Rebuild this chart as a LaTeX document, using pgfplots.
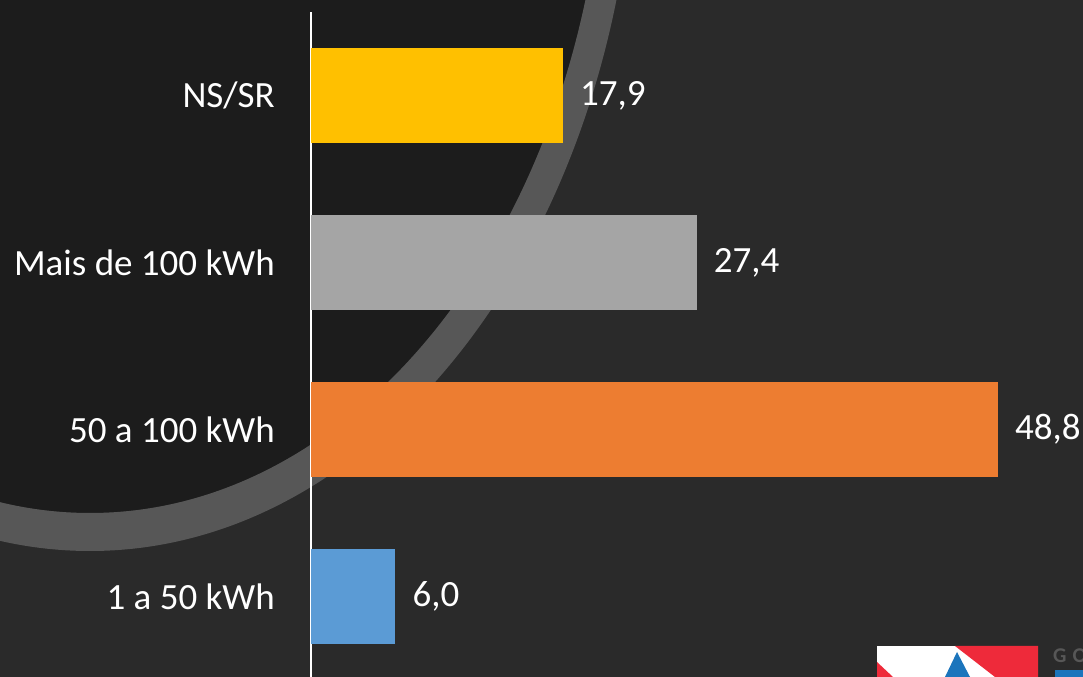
\documentclass[border=0pt]{standalone}
\usepackage{pgfplots}
\pgfplotsset{compat=1.18}
\usepackage{fontspec}
\setmainfont{Carlito}
\definecolor{bgout}{HTML}{2A2A2A}
\definecolor{bgin}{HTML}{1C1C1C}
\definecolor{ring}{HTML}{575757}
\definecolor{cyellow}{HTML}{FFC000}
\definecolor{cgray}{HTML}{A5A5A5}
\definecolor{corange}{HTML}{ED7D31}
\definecolor{cblue}{HTML}{5B9BD5}
\definecolor{logored}{HTML}{EE2A3A}
\definecolor{logoblue}{HTML}{1B75BC}
\begin{document}
\begin{tikzpicture}[x=1bp,y=1bp]
\useasboundingbox (0,0) rectangle (1083,677);
\begin{scope}
\clip (0,0) rectangle (1083,677);
\fill[bgout] (0,0) rectangle (1083,677);
\fill[bgin] (90,877) ellipse (516 and 713);
\fill[ring, even odd rule] (90,877) ellipse (546 and 751) (90,877) ellipse (516 and 713);
% logo
\fill[white] (877,0) rectangle (1038,31);
\fill[logored] (955,31) -- (1038,31) -- (1038,0) -- (995,0) -- cycle;
\fill[logored] (877,15) -- (877,0) -- (893,0) -- cycle;
\fill[logoblue] (957,25) -- (970,0) -- (945,0) -- cycle;
\node[anchor=south west, inner sep=0pt, text=ring, font=\fontsize{21bp}{21bp}\selectfont\bfseries] at (1053,14) {G\hspace{6bp}O};
\fill[logoblue] (1055,0) rectangle (1083,7);
\end{scope}
\begin{axis}[
  at={(311bp,0bp)}, anchor=south west,
  scale only axis, width=772bp, height=665bp,
  xbar, bar shift=0pt, bar width=95bp,
  xmin=0, xmax=54.85, ymin=-0.482, ymax=3.5,
  axis y line*=left, axis x line=none,
  y axis line style={white, line width=1.5bp, -},
  ytick={0,1,2,3},
  yticklabels={1 a 50 kWh, 50 a 100 kWh, Mais de 100 kWh, NS/SR},
  major tick length=0pt,
  yticklabel style={font=\fontsize{37bp}{40bp}\selectfont, text=white, inner sep=0pt, anchor=east, xshift=-36bp},
  /pgf/number format/.cd, fixed, fixed zerofill, precision=1, use comma, assume math mode=true,
  /pgfplots/.cd,
  nodes near coords,
  nodes near coords style={font=\fontsize{37bp}{40bp}\selectfont, text=white, inner sep=0pt, anchor=west, xshift=17bp},
]
\addplot[draw=none, fill=cblue] coordinates {(6.0,0)};
\addplot[draw=none, fill=corange] coordinates {(48.8,1)};
\addplot[draw=none, fill=cgray] coordinates {(27.4,2)};
\addplot[draw=none, fill=cyellow] coordinates {(17.9,3)};
\end{axis}
\end{tikzpicture}
\end{document}
